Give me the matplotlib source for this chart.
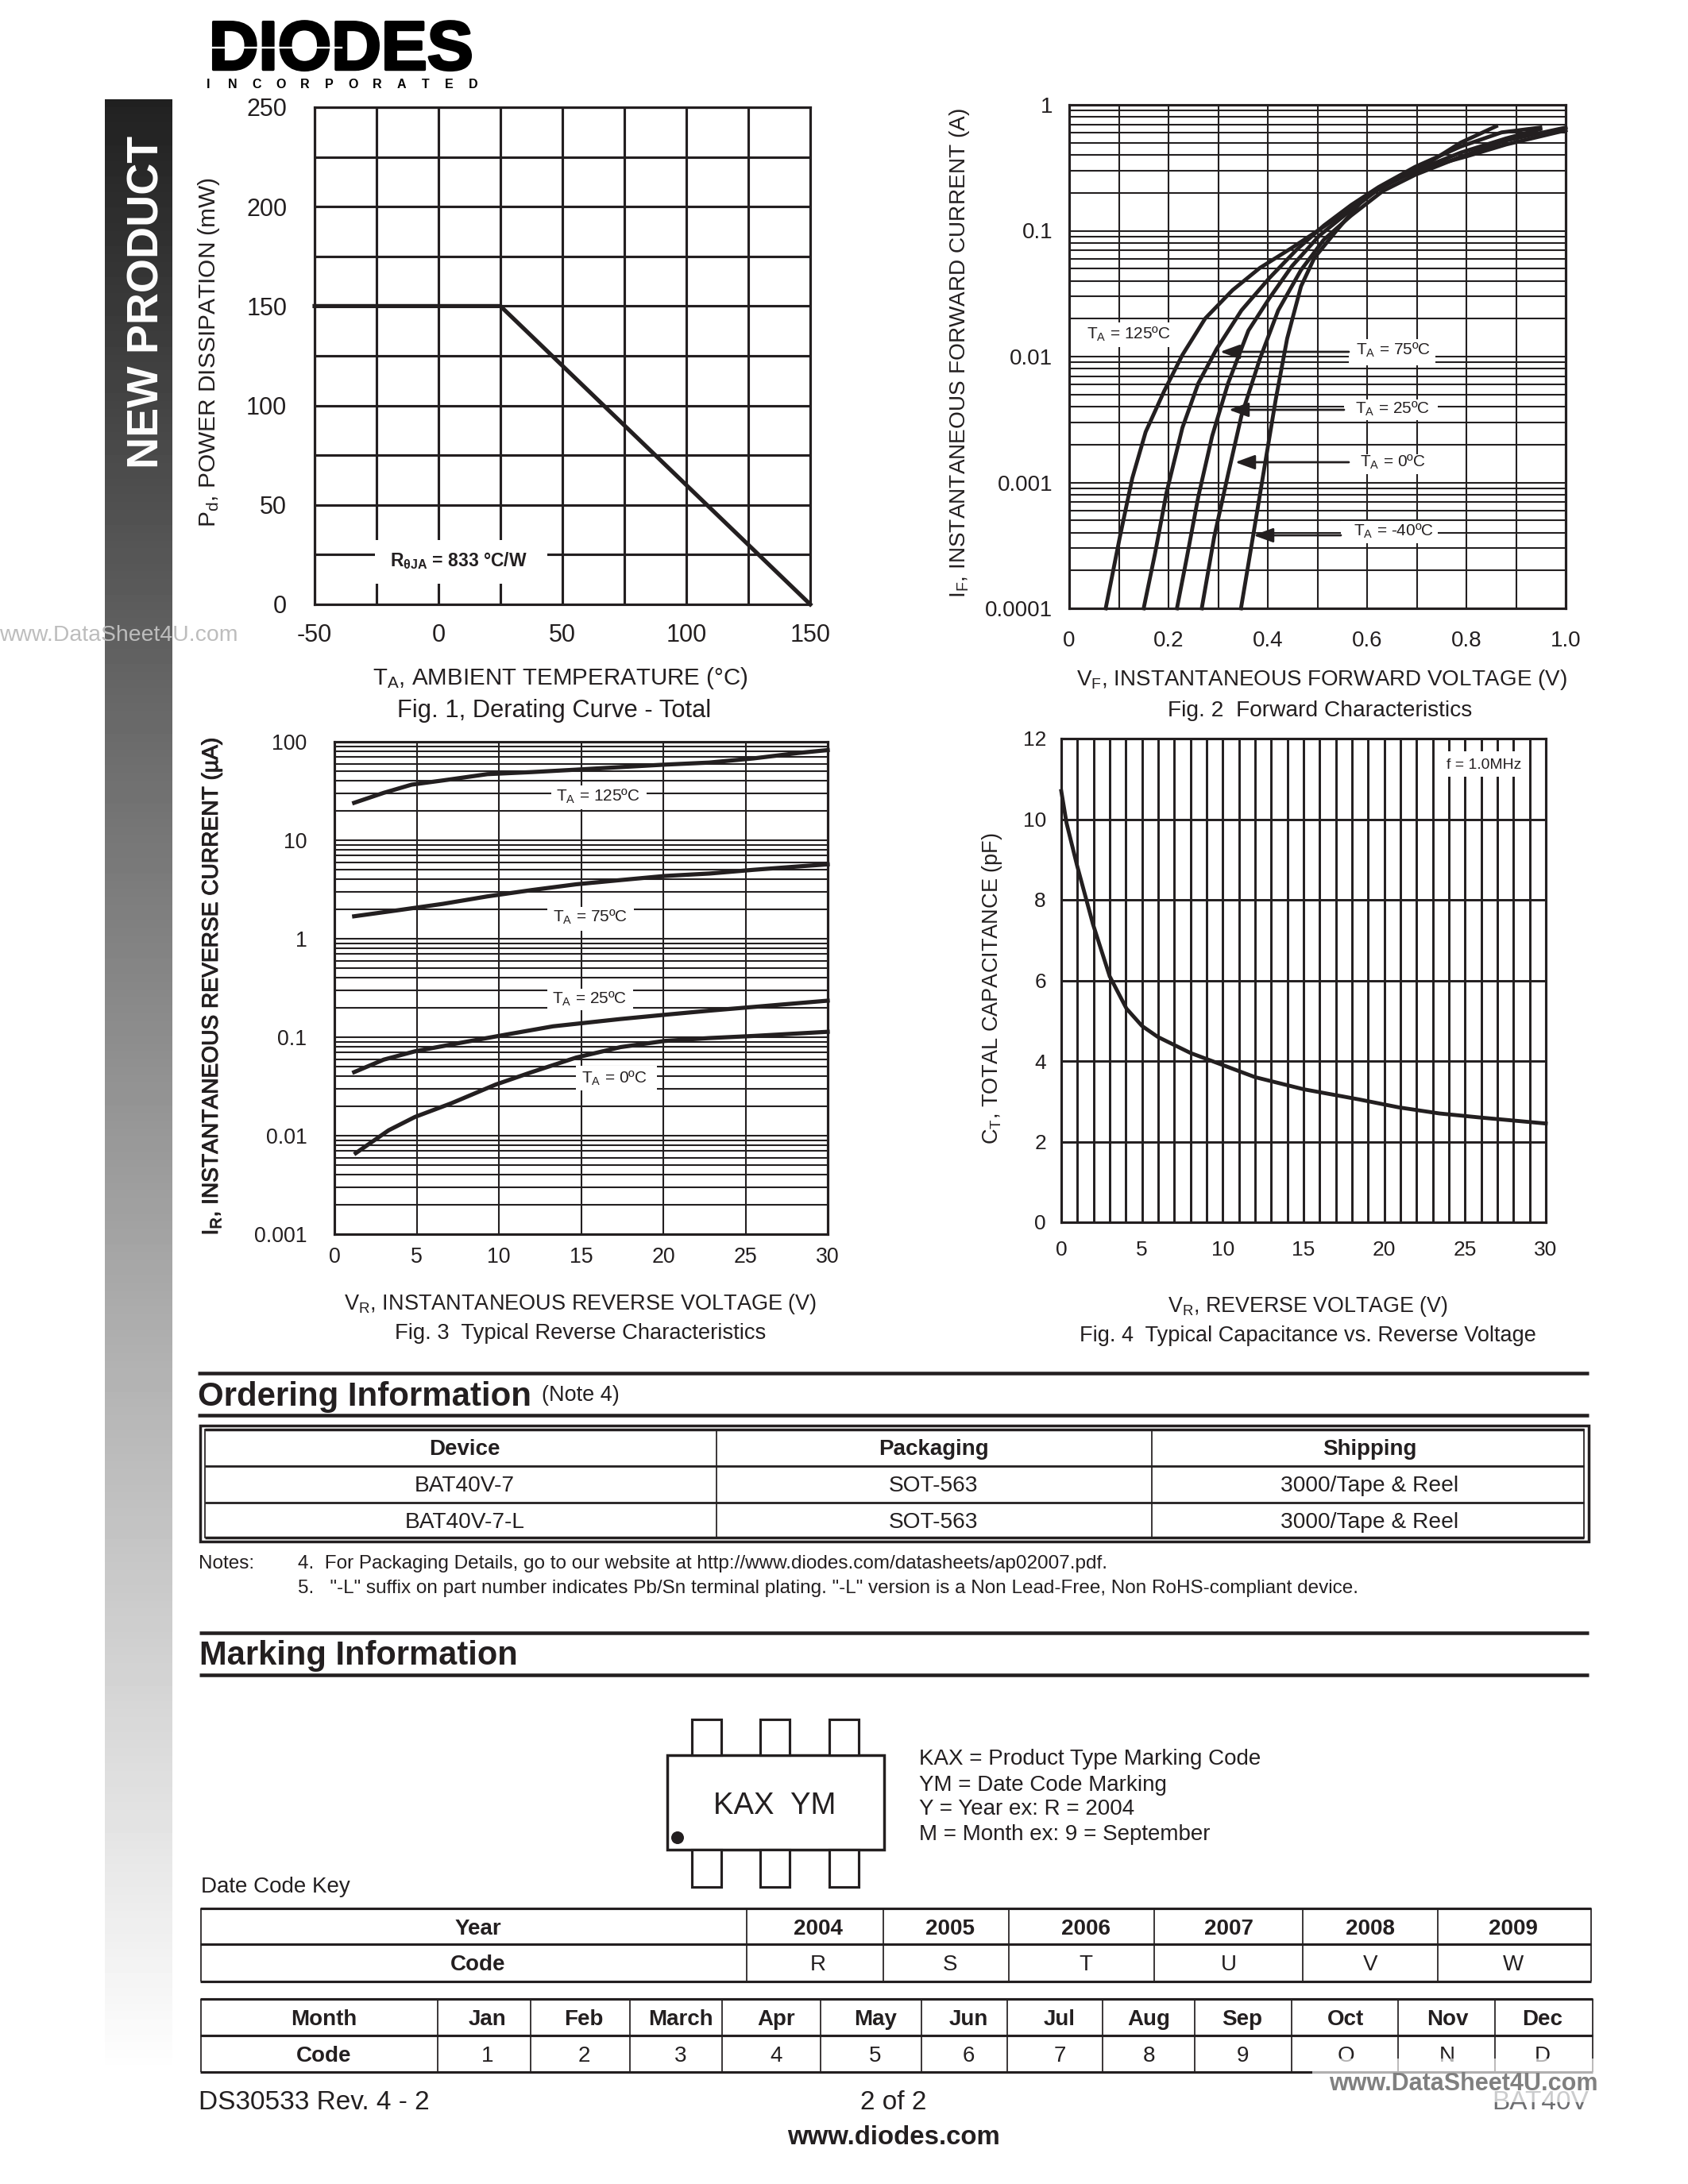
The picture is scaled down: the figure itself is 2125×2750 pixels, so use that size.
import numpy as np
import matplotlib
matplotlib.use('Agg')
import matplotlib.pyplot as plt
import matplotlib.patches as mpatches
import matplotlib.patheffects as pe
from matplotlib.ticker import LogLocator, MultipleLocator, NullFormatter

plt.rcParams['font.family'] = ['Liberation Sans', 'DejaVu Sans']
plt.rcParams['mathtext.fontset'] = 'custom'
plt.rcParams['mathtext.rm'] = 'Liberation Sans'
plt.rcParams['mathtext.default'] = 'regular'
plt.rcParams['axes.unicode_minus'] = False

W, H = 2125, 2750
INK = '#231f20'

# Fig 1
temp = [-50, 25, 150]
power = [150, 150, 0]

# Fig 2, forward voltage (V) and current (A)
vf_125 = [.0735, .102, .127, .154, .191, .228, .274, .329, .384, .449, .504, .559, .605, .669, .724, .789, .860]
if_125 = [1e-4, 3.68e-4, 1.08e-3, 2.52e-3, 5.29e-3, .0103, .0201, .0337, .0506, .0733, .102, .143, .192, .274, .347, .502, .676]
vf_75 = [.150, .173, .196, .228, .260, .297, .347, .403, .458, .513, .568, .623, .697, .789, .871, .949]
if_75 = [1e-4, 2.74e-4, 8.3e-4, 2.72e-3, 6.13e-3, .0115, .0233, .042, .0706, .110, .160, .222, .322, .467, .604, .66]
vf_25 = [.217, .237, .260, .288, .320, .361, .403, .449, .504, .559, .623, .697, .789, .880, .949]
if_25 = [1e-4, 2.54e-4, 7.7e-4, 2.34e-3, 6.13e-3, .0161, .029, .0525, .0915, .137, .214, .299, .418, .541, .641]
vf_0 = [.267, .292, .320, .347, .384, .421, .467, .513, .568, .632, .697, .789, .880, 1.0]
if_0 = [1e-4, 3.68e-4, 1.16e-3, 3.4e-3, 9.57e-3, .0233, .0488, .085, .132, .207, .278, .387, .521, .66]
vf_m40 = [.346, .370, .393, .416, .439, .467, .494, .540, .596, .660, .724, .798, .880, 1.0]
if_m40 = [1e-4, 3.68e-4, 1.3e-3, 4.56e-3, .0139, .0362, .061, .102, .185, .258, .322, .387, .484, .627]

# Fig 3, reverse voltage (V) and current (uA)
vr_125 = [1.2, 3.0, 4.7, 6.6, 9.3, 12, 14.7, 17.4, 20.1, 22.8, 25.5, 28.2, 30]
ir_125 = [24, 30.3, 36.7, 40.5, 46.9, 49.2, 52.1, 55.3, 58.6, 61.5, 67.8, 76.9, 82.3]
vr_75 = [1.2, 3.9, 6.6, 9.3, 12, 14.7, 17.4, 20.1, 22.8, 25.5, 28.2, 30]
ir_75 = [1.69, 1.95, 2.26, 2.69, 3.12, 3.57, 3.94, 4.34, 4.59, 5.01, 5.42, 5.69]
vr_25 = [1.2, 3, 4.9, 7.6, 10.4, 13.3, 17.4, 20.1, 22.8, 25.5, 30]
ir_25 = [.0442, .0592, .0719, .0873, .106, .129, .153, .169, .186, .203, .235]
vr_0 = [1.3, 3.3, 4.9, 7.1, 9.8, 12, 14.7, 17.4, 20.1, 22.8, 25.5, 30]
ir_0 = [.00665, .01135, .0155, .0213, .033, .0442, .0621, .0793, .0917, .098, .103, .1135]

# Fig 4
vr_cap = [0, .33, .98, 1.96, 3, 4.04, 5, 5.97, 8, 10, 12, 15, 18.4, 20.9, 23.4, 25.9, 30]
cap = [10.7, 9.9, 8.85, 7.4, 6.1, 5.3, 4.87, 4.6, 4.2, 3.9, 3.6, 3.3, 3.05, 2.85, 2.7, 2.6, 2.45]

# Tables
order_header = ['Device', 'Packaging', 'Shipping']
order_rows = [['BAT40V-7', 'SOT-563', '3000/Tape & Reel'],
              ['BAT40V-7-L', 'SOT-563', '3000/Tape & Reel']]
years = ['2004', '2005', '2006', '2007', '2008', '2009']
year_codes = ['R', 'S', 'T', 'U', 'V', 'W']
months = ['Jan', 'Feb', 'March', 'Apr', 'May', 'Jun', 'Jul', 'Aug', 'Sep', 'Oct', 'Nov', 'Dec']
month_codes = ['1', '2', '3', '4', '5', '6', '7', '8', '9', 'O', 'N', 'D']

fig = plt.figure(figsize=(W / 250, H / 250), dpi=250, facecolor='white')


def add_chart(left, top, right, bottom, labelsize):
    ax = fig.add_axes([left / W, 1 - bottom / H, (right - left) / W, (bottom - top) / H])
    ax.tick_params(which='both', length=0, colors=INK, labelsize=labelsize)
    for s in ax.spines.values():
        s.set_linewidth(0.9)
        s.set_color(INK)
    ax.set_axisbelow(True)
    return ax


def log_grid(ax, lw_major, lw_minor):
    ax.set_yscale('log')
    ax.yaxis.set_major_locator(LogLocator(base=10, numticks=12))
    ax.yaxis.set_minor_locator(LogLocator(base=10, subs=np.arange(2, 10), numticks=20))
    ax.yaxis.set_minor_formatter(NullFormatter())
    ax.grid(True, which='both', axis='y', color=INK, lw=lw_minor)
    ax.grid(True, which='major', axis='x', color=INK, lw=lw_major)


# Fig 1
ax1 = add_chart(396, 135, 1020, 761, 8.8)
ax1.set_xlim(-50, 150)
ax1.set_ylim(0, 250)
ax1.xaxis.set_minor_locator(MultipleLocator(25))
ax1.yaxis.set_major_locator(MultipleLocator(50))
ax1.yaxis.set_minor_locator(MultipleLocator(25))
ax1.set_xticks([-50, 0, 50, 100, 150])
ax1.grid(True, which='both', color=INK, lw=0.9)
ax1.tick_params(axis='x', pad=7)
ax1.tick_params(axis='y', pad=10)
ax1.plot(temp, power, color=INK, lw=1.5, clip_on=False)

# Fig 2
ax2 = add_chart(1346, 132, 1971, 766, 8.0)
ax2.set_xlim(0, 1)
ax2.set_ylim(1e-4, 1)
log_grid(ax2, 0.6, 0.6)
ax2.xaxis.set_major_locator(MultipleLocator(0.1))
ax2.set_xticks([0, .2, .4, .6, .8, 1.0])
ax2.set_xticklabels(['0', '0.2', '0.4', '0.6', '0.8', '1.0'])
ax2.xaxis.set_minor_locator(MultipleLocator(0.1))
ax2.grid(True, which='both', axis='x', color=INK, lw=0.6)
ax2.set_yticks([1e-4, 1e-3, 1e-2, 1e-1, 1])
ax2.set_yticklabels(['0.0001', '0.001', '0.01', '0.1', '1'])
ax2.tick_params(axis='x', pad=8)
ax2.tick_params(axis='y', pad=6)
for v, i in [(vf_125, if_125), (vf_75, if_75), (vf_25, if_25), (vf_0, if_0), (vf_m40, if_m40)]:
    ax2.plot(v, i, color=INK, lw=1.4, clip_on=False, solid_joinstyle='round')

# Fig 3
ax3 = add_chart(421, 934, 1042, 1554, 7.7)
ax3.set_xlim(0, 30)
ax3.set_ylim(1e-3, 100)
log_grid(ax3, 0.6, 0.6)
ax3.set_xticks([0, 5, 10, 15, 20, 25, 30])
ax3.set_yticks([1e-3, 1e-2, 1e-1, 1, 10, 100])
ax3.set_yticklabels(['0.001', '0.01', '0.1', '1', '10', '100'])
ax3.tick_params(axis='x', pad=4.6)
ax3.tick_params(axis='y', pad=10)
for v, i in [(vr_125, ir_125), (vr_75, ir_75), (vr_25, ir_25), (vr_0, ir_0)]:
    ax3.plot(v, i, color=INK, lw=1.5, clip_on=False, solid_joinstyle='round')

# Fig 4
ax4 = add_chart(1336, 930, 1946, 1539, 7.6)
ax4.set_xlim(0, 30)
ax4.set_ylim(0, 12)
ax4.set_xticks([0, 5, 10, 15, 20, 25, 30])
ax4.xaxis.set_minor_locator(MultipleLocator(1))
ax4.yaxis.set_major_locator(MultipleLocator(2))
ax4.grid(True, which='both', color=INK, lw=0.85)
ax4.tick_params(axis='x', pad=6.6)
ax4.tick_params(axis='y', pad=5.5)
ax4.plot(vr_cap, cap, color=INK, lw=1.4, clip_on=False, solid_joinstyle='round')

# page furniture lives on a full page overlay, in pixel coordinates
page = fig.add_axes([0, 0, 1, 1], zorder=10)
page.set_xlim(0, W)
page.set_ylim(H, 0)
page.axis('off')
page.patch.set_alpha(0)


def txt(x, y, s, size=8.0, ha='center', va='center', **kw):
    kw.setdefault('color', INK)
    # centre on the glyph box, matplotlib counts the descender in
    if kw.get('rotation') == 90:
        x += 3
    else:
        y += 2
    return page.text(x, y, s, fontsize=size, ha=ha, va=va, **kw)


def box(x0, y0, x1, y1):
    page.add_patch(mpatches.Rectangle((x0, y0), x1 - x0, y1 - y0, fc='white', ec='none', zorder=2))


def hline(x0, x1, y, lw):
    page.plot([x0, x1], [y, y], color=INK, lw=lw, solid_capstyle='butt', zorder=3)


def vline(x, y0, y1, lw):
    page.plot([x, x], [y0, y1], color=INK, lw=lw, solid_capstyle='butt', zorder=3)


# side bar
side = np.interp(np.linspace(0, 1, 256), [0, .32, .62, 1], [.13, .42, .68, 1.0]).reshape(-1, 1)
page.imshow(side, extent=(132, 217, 2620, 125), cmap='gray', vmin=0, vmax=1, aspect='auto', zorder=1)
page.set_xlim(0, W)
page.set_ylim(H, 0)
txt(183, 380, 'NEW PRODUCT', size=16, rotation=90, weight='bold', color='white', zorder=4)

# logo
logo = txt(429, 63, 'DIODES', size=25, weight='bold', color='black')
logo.set_path_effects([pe.withStroke(linewidth=1.0, foreground='black')])
page.plot([262, 430], [60, 60], color='white', lw=0.7, zorder=4)
for ch, x in zip('INCORPORATED', np.linspace(262, 596, 12)):
    txt(x, 104, ch, size=4.6, weight='bold', color='black')

# watermarks
txt(149, 798, 'www.DataSheet4U.com', size=8.2, color='#bdbdbd', zorder=5)

# Fig 1 text
box(472, 680, 689, 735)
txt(577, 704, r'R$_{\theta JA}$ = 833 °C/W', size=6.6, weight='bold', zorder=4)
txt(705, 852, 'T$_A$, AMBIENT TEMPERATURE (°C)', size=8.5)
txt(698, 893, 'Fig. 1, Derating Curve - Total', size=8.9)
txt(260, 443, 'P$_d$, POWER DISSIPATION (mW)', size=8.6, rotation=90)

# Fig 2 text
txt(1664, 854, 'V$_F$, INSTANTANEOUS FORWARD VOLTAGE (V)', size=8.0)
txt(1662, 893, 'Fig. 2  Forward Characteristics', size=8.1)
txt(1205, 445, 'I$_F$, INSTANTANEOUS FORWARD CURRENT (A)', size=8.05, rotation=90)
box(1362, 406, 1480, 437)
txt(1421, 419, 'T$_A$ = 125ºC', size=6.0, zorder=4)
for (x0, y0, x1, y1), (tx, ty), lab, ay, tip in [
        ((1698, 427, 1807, 460), (1754, 439), 'T$_A$ = 75ºC', 443, 1536),
        ((1692, 503, 1810, 529), (1753, 513), 'T$_A$ = 25ºC', 516, 1547),
        ((1698, 572, 1799, 597), (1753, 580), 'T$_A$ = 0ºC', 582, 1555),
        ((1688, 656, 1810, 684), (1754, 667), 'T$_A$ = -40ºC', 674, 1578)]:
    box(x0, y0, x1, y1)
    txt(tx, ty, lab, size=6.0, zorder=4)
    page.annotate('', xy=(tip, ay), xytext=(x0, ay), zorder=4,
                  arrowprops=dict(arrowstyle='-|>,head_width=0.22,head_length=0.6', color=INK, lw=0.8,
                                  shrinkA=0, shrinkB=0))

# Fig 3 text
txt(731, 1640, 'V$_R$, INSTANTANEOUS REVERSE VOLTAGE (V)', size=7.8)
txt(731, 1677, 'Fig. 3  Typical Reverse Characteristics', size=7.9)
ylab3 = txt(264, 1242, 'I$_R$, INSTANTANEOUS REVERSE CURRENT (µA)', size=8.1, rotation=90)
ylab3.set_path_effects([pe.withStroke(linewidth=0.3, foreground=INK)])
for (x0, y0, x1, y1), (tx, ty), lab in [
        ((694, 989, 814, 1019), (753, 1001), 'T$_A$ = 125ºC'),
        ((689, 1142, 798, 1172), (743, 1153), 'T$_A$ = 75ºC'),
        ((689, 1245, 797, 1272), (742, 1256), 'T$_A$ = 25ºC'),
        ((725, 1342, 827, 1373), (773, 1356), 'T$_A$ = 0ºC')]:
    box(x0, y0, x1, y1)
    txt(tx, ty, lab, size=6.0, zorder=4)

# Fig 4 text
txt(1646, 1643, 'V$_R$, REVERSE VOLTAGE (V)', size=7.7)
txt(1646, 1680, 'Fig. 4  Typical Capacitance vs. Reverse Voltage', size=7.8)
txt(1246, 1245, 'C$_T$, TOTAL CAPACITANCE (pF)', size=7.8, rotation=90)
box(1815, 946, 1924, 978)
txt(1868, 961, 'f = 1.0MHz', size=5.6, zorder=4)

# ordering information
hline(249, 2000, 1729, 1.3)
hline(249, 2000, 1782, 1.3)
txt(249, 1757, 'Ordering Information', size=12.1, ha='left', weight='bold')
txt(682, 1755, '(Note 4)', size=7.8, ha='left')
page.add_patch(mpatches.Rectangle((252, 1795), 1748, 146, fc='none', ec=INK, lw=1.0, zorder=3))
page.add_patch(mpatches.Rectangle((258, 1800), 1736, 136, fc='none', ec=INK, lw=0.5, zorder=3))
hline(258, 1994, 1800, 1.0)
hline(258, 1994, 1936, 1.0)
hline(258, 1994, 1846, 0.8)
hline(258, 1994, 1892, 0.8)
vline(902, 1800, 1936, 0.5)
vline(1450, 1800, 1936, 0.5)
order_x = [585, 1175, 1724]
order_y = [1869, 1915]
for x, s in zip(order_x, order_header):
    txt(x, 1823, s, size=8.0, weight='bold')
for y, row in zip(order_y, order_rows):
    for x, s in zip(order_x, row):
        txt(x, y, s, size=8.1)

# notes
txt(250, 1967, 'Notes:', size=7.0, ha='left')
txt(375, 1967, '4.  For Packaging Details, go to our website at http://www.diodes.com/datasheets/ap02007.pdf.',
    size=7.0, ha='left')
txt(375, 1998, '5.   "-L" suffix on part number indicates Pb/Sn terminal plating. "-L" version is a Non Lead-Free, '
    'Non RoHS-compliant device.', size=7.0, ha='left')

# marking information
hline(251, 2000, 2056, 1.3)
hline(251, 2000, 2109, 1.3)
txt(251, 2083, 'Marking Information', size=12.0, ha='left', weight='bold')
page.add_patch(mpatches.Rectangle((840, 2210), 273, 119, fc='white', ec=INK, lw=1.0, zorder=3))
for x0 in [871, 957, 1044]:
    page.add_patch(mpatches.Rectangle((x0, 2165), 37, 45, fc='white', ec=INK, lw=0.9, zorder=3))
    page.add_patch(mpatches.Rectangle((x0, 2329), 37, 47, fc='white', ec=INK, lw=0.9, zorder=3))
page.add_patch(mpatches.Ellipse((853, 2314), 16, 16, fc=INK, ec='none', zorder=4))
txt(975, 2272, 'KAX  YM', size=11, zorder=4)
for y, s in zip([2213, 2246, 2276, 2308], ['KAX = Product Type Marking Code', 'YM = Date Code Marking',
                                           'Y = Year ex: R = 2004', 'M = Month ex: 9 = September']):
    txt(1157, y, s, size=8.0, ha='left')
txt(253, 2374, 'Date Code Key', size=8.0, ha='left')

# year table
for y in [2403, 2448, 2495]:
    hline(252, 2003, y, 0.9)
for x in [253, 940, 1112, 1270, 1453, 1640, 1810, 2003]:
    vline(x, 2403, 2495, 0.5)
txt(602, 2427, 'Year', size=8.0, weight='bold')
txt(602, 2472, 'Code', size=8.0, weight='bold')
for x, yr, code in zip([1030, 1196, 1367, 1547, 1725, 1905], years, year_codes):
    txt(x, 2427, yr, size=8.0, weight='bold')
    txt(x, 2472, code, size=8.0)

# month table
for y in [2517, 2563, 2609]:
    hline(252, 2005, y, 0.9)
for x in [253, 551, 668, 793, 909, 1033, 1160, 1268, 1388, 1504, 1626, 1760, 1882, 2005]:
    vline(x, 2517, 2609, 0.5)
txt(408, 2541, 'Month', size=8.0, weight='bold')
txt(408, 2587, 'Code', size=8.0, weight='bold')
month_x = [614, 735, 857, 977, 1102, 1219, 1334, 1446, 1564, 1694, 1822, 1942]
for x, m, code in zip(month_x, months, month_codes):
    txt(x, 2541, m, size=8.0, weight='bold')
    txt(x, 2587, code, size=8.0)

# footer
txt(250, 2646, 'DS30533 Rev. 4 - 2', size=9.6, ha='left')
txt(1125, 2646, '2 of 2', size=9.6)
txt(2000, 2646, 'BAT40V', size=9.6, ha='right', color='#6d6e71')
txt(1125, 2690, 'www.diodes.com', size=9.5, weight='bold')
page.add_patch(mpatches.Rectangle((1652, 2592), 358, 55, fc='white', ec='none', alpha=0.65, zorder=5))
txt(1842, 2622, 'www.DataSheet4U.com', size=8.8, weight='bold', color='#808080', zorder=6)

fig.savefig('out.png', dpi=250)
